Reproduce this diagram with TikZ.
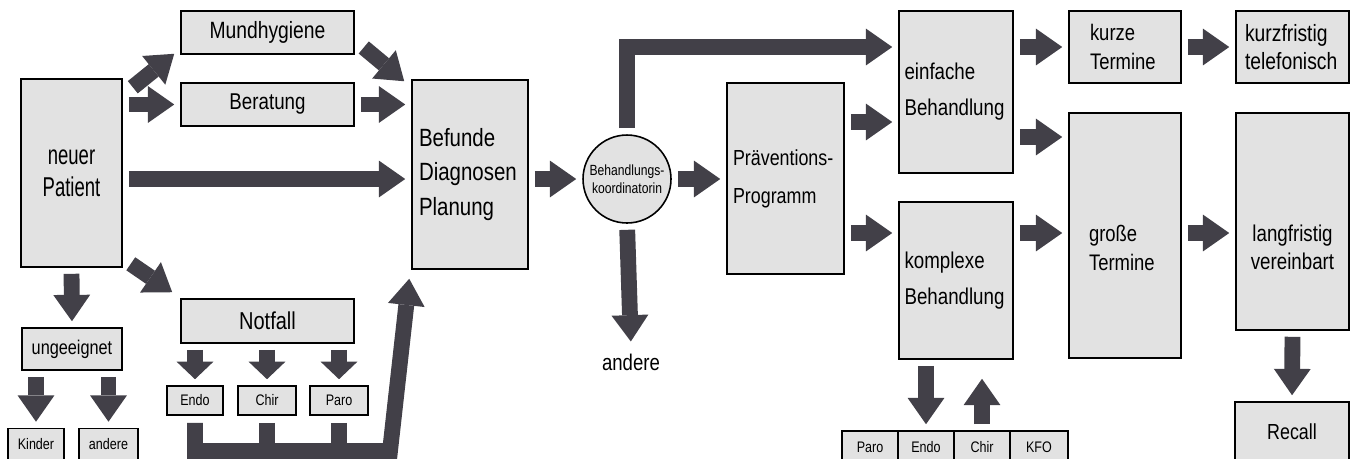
\documentclass[tikz,border=0pt]{standalone}
\usepackage{fontspec}
\setmainfont{Liberation Sans}[FakeStretch=0.82]
\newfontfamily\condfont{Liberation Sans}[FakeStretch=0.68]
\usepackage{xcolor}
\usepackage{tikz}
\usetikzlibrary{arrows.meta}
\definecolor{boxgray}{RGB}{226,226,226}
\definecolor{arrowgray}{RGB}{66,64,72}
\newcommand{\fs}[2]{\fontsize{#1}{#2}\selectfont}
\tikzset{
  box/.style={draw, fill=boxgray, line width=0.9pt, inner sep=0pt, align=center, font=\fs{13pt}{16.4pt}},
  lbox/.style={box, align=left, inner xsep=#1},
  small/.style={box, font=\fs{8.7pt}{10pt}},
  fat/.style={draw=arrowgray, line width=9pt, -{Triangle[width=21pt,length=15pt,line width=0pt]}},
  short/.style={-{Triangle[width=21pt,length=10pt,line width=0pt]}},
  gap/.style={shorten <=0.12cm, shorten >=0.12cm}
}

\begin{document}
\begin{tikzpicture}[x=0.02cm, y=-0.02cm]
  \useasboundingbox (0,0) rectangle (1364,458);
  \clip (0,0) rectangle (1364,458);

  \node[box, minimum width=2.02cm, minimum height=3.76cm, font=\condfont\fs{15.5pt}{18.1pt}] (patient) at (71.5,173) {neuer\\Patient};
  \node[box, minimum width=3.46cm, minimum height=0.86cm, font=\fs{13.4pt}{16pt}] (mund) at (267.5,32.5) {Mundhygiene};
  \node[box, minimum width=3.46cm, minimum height=0.86cm] (berat) at (267.5,104.5) {Beratung};
  \node[lbox=0.14cm, text width=2.04cm, minimum height=3.78cm, font=\fs{14.2pt}{19.8pt}] (befund) at (470,174.5) {Befunde\\Diagnosen\\Planung};
  \node[box, circle, minimum size=1.76cm, font=\fs{8.4pt}{10.2pt}] (koord) at (627,179) {Behandlungs-\\koordinatorin};
  \node[lbox=0.12cm, text width=2.1cm, minimum height=3.82cm, font=\fs{12.4pt}{21.5pt}] (praev) at (785.5,178.5) {Präventions-\\Programm};
  \node[lbox=0.11cm, text width=2.06cm, minimum height=3.24cm, font=\fs{13pt}{20.4pt}] (einf) at (956,92) {einfache\\Behandlung};
  \node[lbox=0.11cm, text width=2.06cm, minimum height=3.14cm, font=\fs{13pt}{20.4pt}] (kompl) at (956,280.5) {komplexe\\Behandlung};
  \node[lbox=0.42cm, text width=1.4cm, minimum height=1.44cm, font=\fs{12.8pt}{16.4pt}] (kurz) at (1125,47) {kurze\\Termine};
  \node[lbox=0.18cm, text width=1.9cm, minimum height=1.44cm, font=\fs{13.4pt}{16pt}] (tel) at (1292.5,47) {kurzfristig\\telefonisch};
  \node[lbox=0.4cm, text width=1.44cm, minimum height=4.9cm, font=\fs{12.8pt}{16.4pt}] (gross) at (1125,235.5) {\mbox{}\\[6.6pt]große\\Termine};
  \node[box, minimum width=2.26cm, minimum height=4.34cm] (lang) at (1292.5,221.5) {\mbox{}\\[22.4pt]langfristig\\vereinbart};
  \node[box, minimum width=2.28cm, minimum height=1.2cm, font=\fs{12.4pt}{14pt}] (recall) at (1292,432) {Recall};
  \node[box, minimum width=2.0cm, minimum height=0.84cm, font=\fs{11.3pt}{13pt}] (unge) at (72,349) {ungeeignet};
  \node[small, minimum width=1.12cm, minimum height=0.62cm] (kinder) at (36,444) {Kinder};
  \node[small, minimum width=1.18cm, minimum height=0.62cm] (anderl) at (108.5,444) {andere};
  \node[box, minimum width=3.46cm, minimum height=0.88cm, font=\fs{13.9pt}{15pt}] (notfall) at (267.5,321) {Notfall};
  \node[small, minimum width=1.12cm, minimum height=0.58cm] (endo) at (195,400.5) {Endo};
  \node[small, minimum width=1.16cm, minimum height=0.58cm] (chir) at (267,400.5) {Chir};
  \node[small, minimum width=1.16cm, minimum height=0.58cm] (paro) at (339,400.5) {Paro};
  \node[small, minimum width=1.12cm, minimum height=0.64cm] (rparo) at (870,447) {Paro};
  \node[small, minimum width=1.12cm, minimum height=0.64cm] (rendo) at (926,447) {Endo};
  \node[small, minimum width=1.12cm, minimum height=0.64cm] (rchir) at (982,447) {Chir};
  \node[small, minimum width=1.16cm, minimum height=0.64cm] (rkfo) at (1039,447) {KFO};
  \node[font=\fs{12.9pt}{14pt}] (sonst) at (631,362) {andere};

  \draw[fat] ([shift={(10,9)}]patient.north east) -- ([shift={(-6,-1)}]mund.south west);
  \draw[fat,gap] (patient.east |- berat) -- (berat.west);
  \draw[fat,gap] (patient.east |- koord) -- (befund.west |- koord);
  \draw[fat] ([shift={(8,-4)}]patient.south east) -- ([shift={(-8,-6)}]notfall.north west);
  \draw[fat] ([shift={(9,15)}]mund.east) -- ([shift={(-7,2)}]befund.north west);
  \draw[fat,gap] (berat.east) -- (befund.west |- berat);
  \draw[fat,gap] (patient.south) -- (unge.north);
  \draw[fat,gap] (unge.south -| kinder) -- (kinder.north);
  \draw[fat,gap] (unge.south -| anderl) -- (anderl.north);
  \foreach \n in {endo,chir,paro}
    \draw[fat,short,gap] (notfall.south -| \n) -- (\n.north);
  \draw[fat, line join=miter, shorten <=0.14cm] (endo.south) -- (endo.south |- 0,451) -- (390,451) -- ([shift={(-2,9)}]befund.south west);
  \foreach \n in {chir,paro}
    \draw[fat, -, shorten <=0.14cm] (\n.south) -- (\n.south |- 0,451);

  \draw[fat,gap] (befund.east |- koord) -- (koord.west);
  \draw[fat,gap] (koord.east) -- (praev.west |- koord);
  \draw[fat,gap, line join=miter] (koord.north) -- (koord.north |- kurz) -- (einf.west |- kurz);
  \draw[fat,gap] (koord.south) -- (sonst.north);
  \draw[fat,gap] (praev.east |- 0,122) -- (einf.west |- 0,122);
  \draw[fat,gap] (praev.east |- 0,233) -- (kompl.west |- 0,233);
  \draw[fat,gap] (einf.east |- kurz) -- (kurz.west);
  \draw[fat,gap] (einf.east |- 0,137) -- (gross.west |- 0,137);
  \draw[fat,gap] (kompl.east |- 0,233) -- (gross.west |- 0,233);
  \draw[fat,gap] (kurz.east) -- (tel.west);
  \draw[fat,gap] (gross.east |- 0,233) -- (lang.west |- 0,233);
  \draw[fat,gap] (lang.south) -- (recall.north);
  \draw[fat,gap] (kompl.south -| rendo) -- (rendo.north);
  \draw[fat, shorten <=0.12cm, shorten >=0.38cm] (rchir.north) -- (kompl.south -| rchir);
\end{tikzpicture}
\end{document}
